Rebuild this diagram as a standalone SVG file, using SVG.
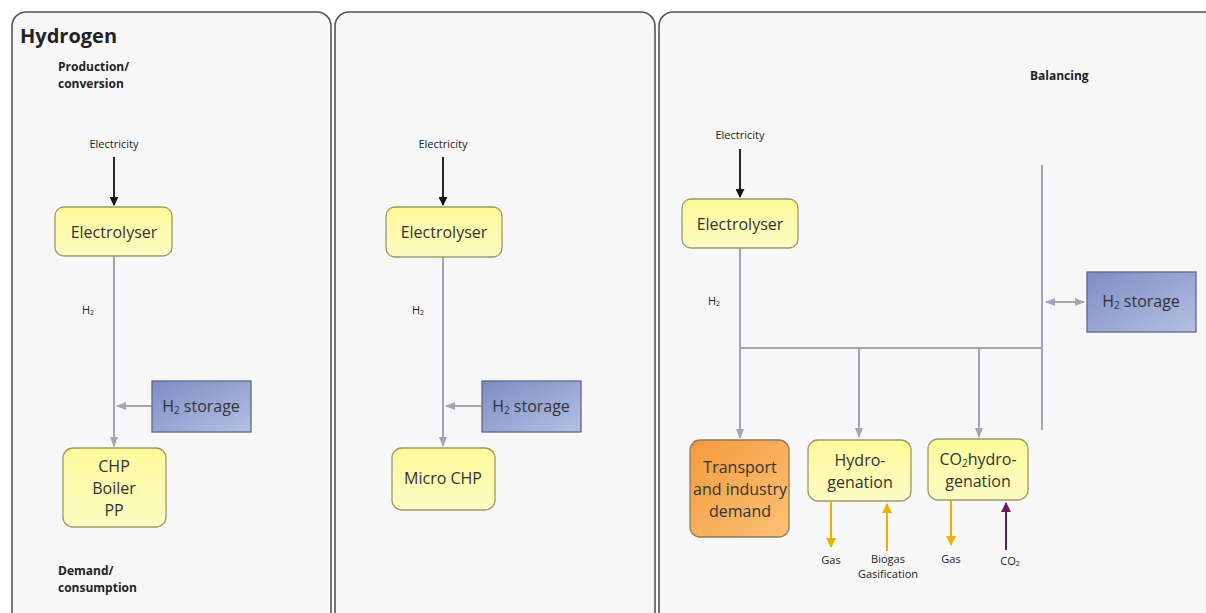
<svg xmlns="http://www.w3.org/2000/svg" width="1206" height="613" viewBox="0 0 1206 613">
<defs>
<linearGradient id="gy" x1="0" y1="0" x2="0" y2="1"><stop offset="0" stop-color="#fdfa9a"/><stop offset="1" stop-color="#fcfcc4"/></linearGradient>
<linearGradient id="gb" x1="0" y1="0" x2="1" y2="1"><stop offset="0" stop-color="#7d8cc4"/><stop offset="1" stop-color="#b4c0e2"/></linearGradient>
<linearGradient id="go" x1="0" y1="0" x2="1" y2="1"><stop offset="0" stop-color="#f59a3c"/><stop offset="1" stop-color="#fbc277"/></linearGradient>
<marker id="ak" viewBox="0 0 10 10" refX="9" refY="5" markerWidth="5" markerHeight="5" orient="auto-start-reverse"><path d="M0,0 L10,5 L0,10 z" fill="#111"/></marker>
<marker id="ag" viewBox="0 0 10 10" refX="9" refY="5" markerWidth="5" markerHeight="5" orient="auto-start-reverse"><path d="M0,1 L10,5 L0,9 z" fill="#a4a4b4"/></marker>
<marker id="ay" viewBox="0 0 10 10" refX="9" refY="5" markerWidth="5" markerHeight="5" orient="auto-start-reverse"><path d="M0,0 L10,5 L0,10 z" fill="#e8b400"/></marker>
<marker id="ap" viewBox="0 0 10 10" refX="9" refY="5" markerWidth="5" markerHeight="5" orient="auto-start-reverse"><path d="M0,0 L10,5 L0,10 z" fill="#6a1a6a"/></marker>
</defs>
<style>
.panel{fill:#f7f7f7;stroke:#555;stroke-width:1.6}
.ybox{fill:url(#gy);stroke:#9c9a66;stroke-width:1.3}
.bbox{fill:url(#gb);stroke:#5f6788;stroke-width:1.3}
.obox{fill:url(#go);stroke:#8f7a5a;stroke-width:1.3}
text{font-family:"Open Sans","Noto Sans","DejaVu Sans",sans-serif;fill:#222}
.t{font-size:16px;text-anchor:middle;fill:#333}
.h{font-size:12px;font-weight:bold}
.s{font-size:11px;text-anchor:middle}
.g{stroke:#a4a4b4;stroke-width:2;fill:none}
.k{stroke:#111;stroke-width:1.8;fill:none}
.y{stroke:#e8b400;stroke-width:2;fill:none}
.p{stroke:#6a1a6a;stroke-width:2;fill:none}
</style>
<rect width="1206" height="613" fill="#fff"/>
<g id="panels">
<rect class="panel" x="12" y="12" width="319" height="620" rx="14"/>
<rect class="panel" x="335" y="12" width="320" height="620" rx="14"/>
<rect class="panel" x="659" y="12" width="570" height="620" rx="14"/>
</g>
<g id="labels">
<text x="20" y="43" style="font-size:20px;font-weight:bold">Hydrogen</text>
<text class="h" x="58" y="71">Production/</text>
<text class="h" x="58" y="88">conversion</text>
<text class="h" x="58" y="575">Demand/</text>
<text class="h" x="58" y="592">consumption</text>
<text class="h" x="1030" y="80">Balancing</text>
<text class="s" x="114" y="148">Electricity</text>
<text class="s" x="443" y="148">Electricity</text>
<text class="s" x="740" y="139">Electricity</text>
<text class="s" x="88" y="314">H<tspan font-size="7" dy="1">2</tspan></text>
<text class="s" x="418" y="314">H<tspan font-size="7" dy="1">2</tspan></text>
<text class="s" x="714" y="305">H<tspan font-size="7" dy="1">2</tspan></text>
<text class="s" x="831" y="564">Gas</text>
<text class="s" x="888" y="563">Biogas</text>
<text class="s" x="888" y="578">Gasification</text>
<text class="s" x="951" y="563">Gas</text>
<text class="s" x="1010" y="565">CO<tspan font-size="7" dy="1">2</tspan></text>
</g>
<g id="connectors">
<line class="k" x1="114" y1="157" x2="114" y2="205" marker-end="url(#ak)"/>
<line class="k" x1="443" y1="157" x2="443" y2="205" marker-end="url(#ak)"/>
<line class="k" x1="740" y1="149" x2="740" y2="197" marker-end="url(#ak)"/>
<line class="g" x1="114" y1="256" x2="114" y2="446" marker-end="url(#ag)"/>
<line class="g" x1="152" y1="406" x2="117" y2="406" marker-end="url(#ag)"/>
<line class="g" x1="443" y1="257" x2="443" y2="446" marker-end="url(#ag)"/>
<line class="g" x1="482" y1="406" x2="446" y2="406" marker-end="url(#ag)"/>
<line class="g" x1="740" y1="248" x2="740" y2="438" marker-end="url(#ag)"/>
<line class="g" x1="740" y1="348" x2="1042" y2="348"/>
<line class="g" x1="859" y1="348" x2="859" y2="437" marker-end="url(#ag)"/>
<line class="g" x1="979" y1="348" x2="979" y2="437" marker-end="url(#ag)"/>
<line class="g" x1="1042" y1="165" x2="1042" y2="430"/>
<line class="g" x1="1046" y1="302" x2="1084" y2="302" marker-start="url(#ag)" marker-end="url(#ag)"/>
<line class="y" x1="831" y1="502" x2="831" y2="547" marker-end="url(#ay)"/>
<line class="y" x1="887" y1="551" x2="887" y2="504" marker-end="url(#ay)"/>
<line class="y" x1="951" y1="501" x2="951" y2="545" marker-end="url(#ay)"/>
<line class="p" x1="1006" y1="550" x2="1006" y2="503" marker-end="url(#ap)"/>
</g>
<g id="electrolyser1"><rect class="ybox" x="55" y="207" width="117" height="49" rx="9"/><text class="t" x="114" y="238">Electrolyser</text></g>
<g id="storage1"><rect class="bbox" x="152" y="381" width="99" height="51"/><text class="t" x="201" y="412">H<tspan font-size="10" dy="2">2</tspan><tspan dy="-2"> storage</tspan></text></g>
<g id="chp1"><rect class="ybox" x="63" y="448" width="103" height="79" rx="10"/><text class="t" x="114" y="472">CHP</text><text class="t" x="114" y="494">Boiler</text><text class="t" x="114" y="516">PP</text></g>
<g id="electrolyser2"><rect class="ybox" x="386" y="207" width="116" height="50" rx="9"/><text class="t" x="444" y="238">Electrolyser</text></g>
<g id="storage2"><rect class="bbox" x="482" y="381" width="99" height="51"/><text class="t" x="531" y="412">H<tspan font-size="10" dy="2">2</tspan><tspan dy="-2"> storage</tspan></text></g>
<g id="microchp"><rect class="ybox" x="392" y="448" width="103" height="62" rx="10"/><text class="t" x="443" y="484">Micro CHP</text></g>
<g id="electrolyser3"><rect class="ybox" x="682" y="199" width="116" height="49" rx="9"/><text class="t" x="740" y="230">Electrolyser</text></g>
<g id="storage3"><rect class="bbox" x="1087" y="272" width="109" height="60"/><text class="t" x="1141" y="307">H<tspan font-size="10" dy="2">2</tspan><tspan dy="-2"> storage</tspan></text></g>
<g id="transport"><rect class="obox" x="690" y="440" width="99" height="97" rx="10"/><text class="t" x="740" y="473">Transport</text><text class="t" x="740" y="495">and industry</text><text class="t" x="740" y="517">demand</text></g>
<g id="hydrogenation"><rect class="ybox" x="808" y="440" width="103" height="61" rx="10"/><text class="t" x="860" y="466">Hydro-</text><text class="t" x="860" y="488">genation</text></g>
<g id="co2hydrogenation"><rect class="ybox" x="928" y="439" width="100" height="61" rx="10"/><text class="t" x="978" y="465">CO<tspan font-size="10" dy="2">2</tspan><tspan dy="-2">hydro-</tspan></text><text class="t" x="978" y="487">genation</text></g>
</svg>
